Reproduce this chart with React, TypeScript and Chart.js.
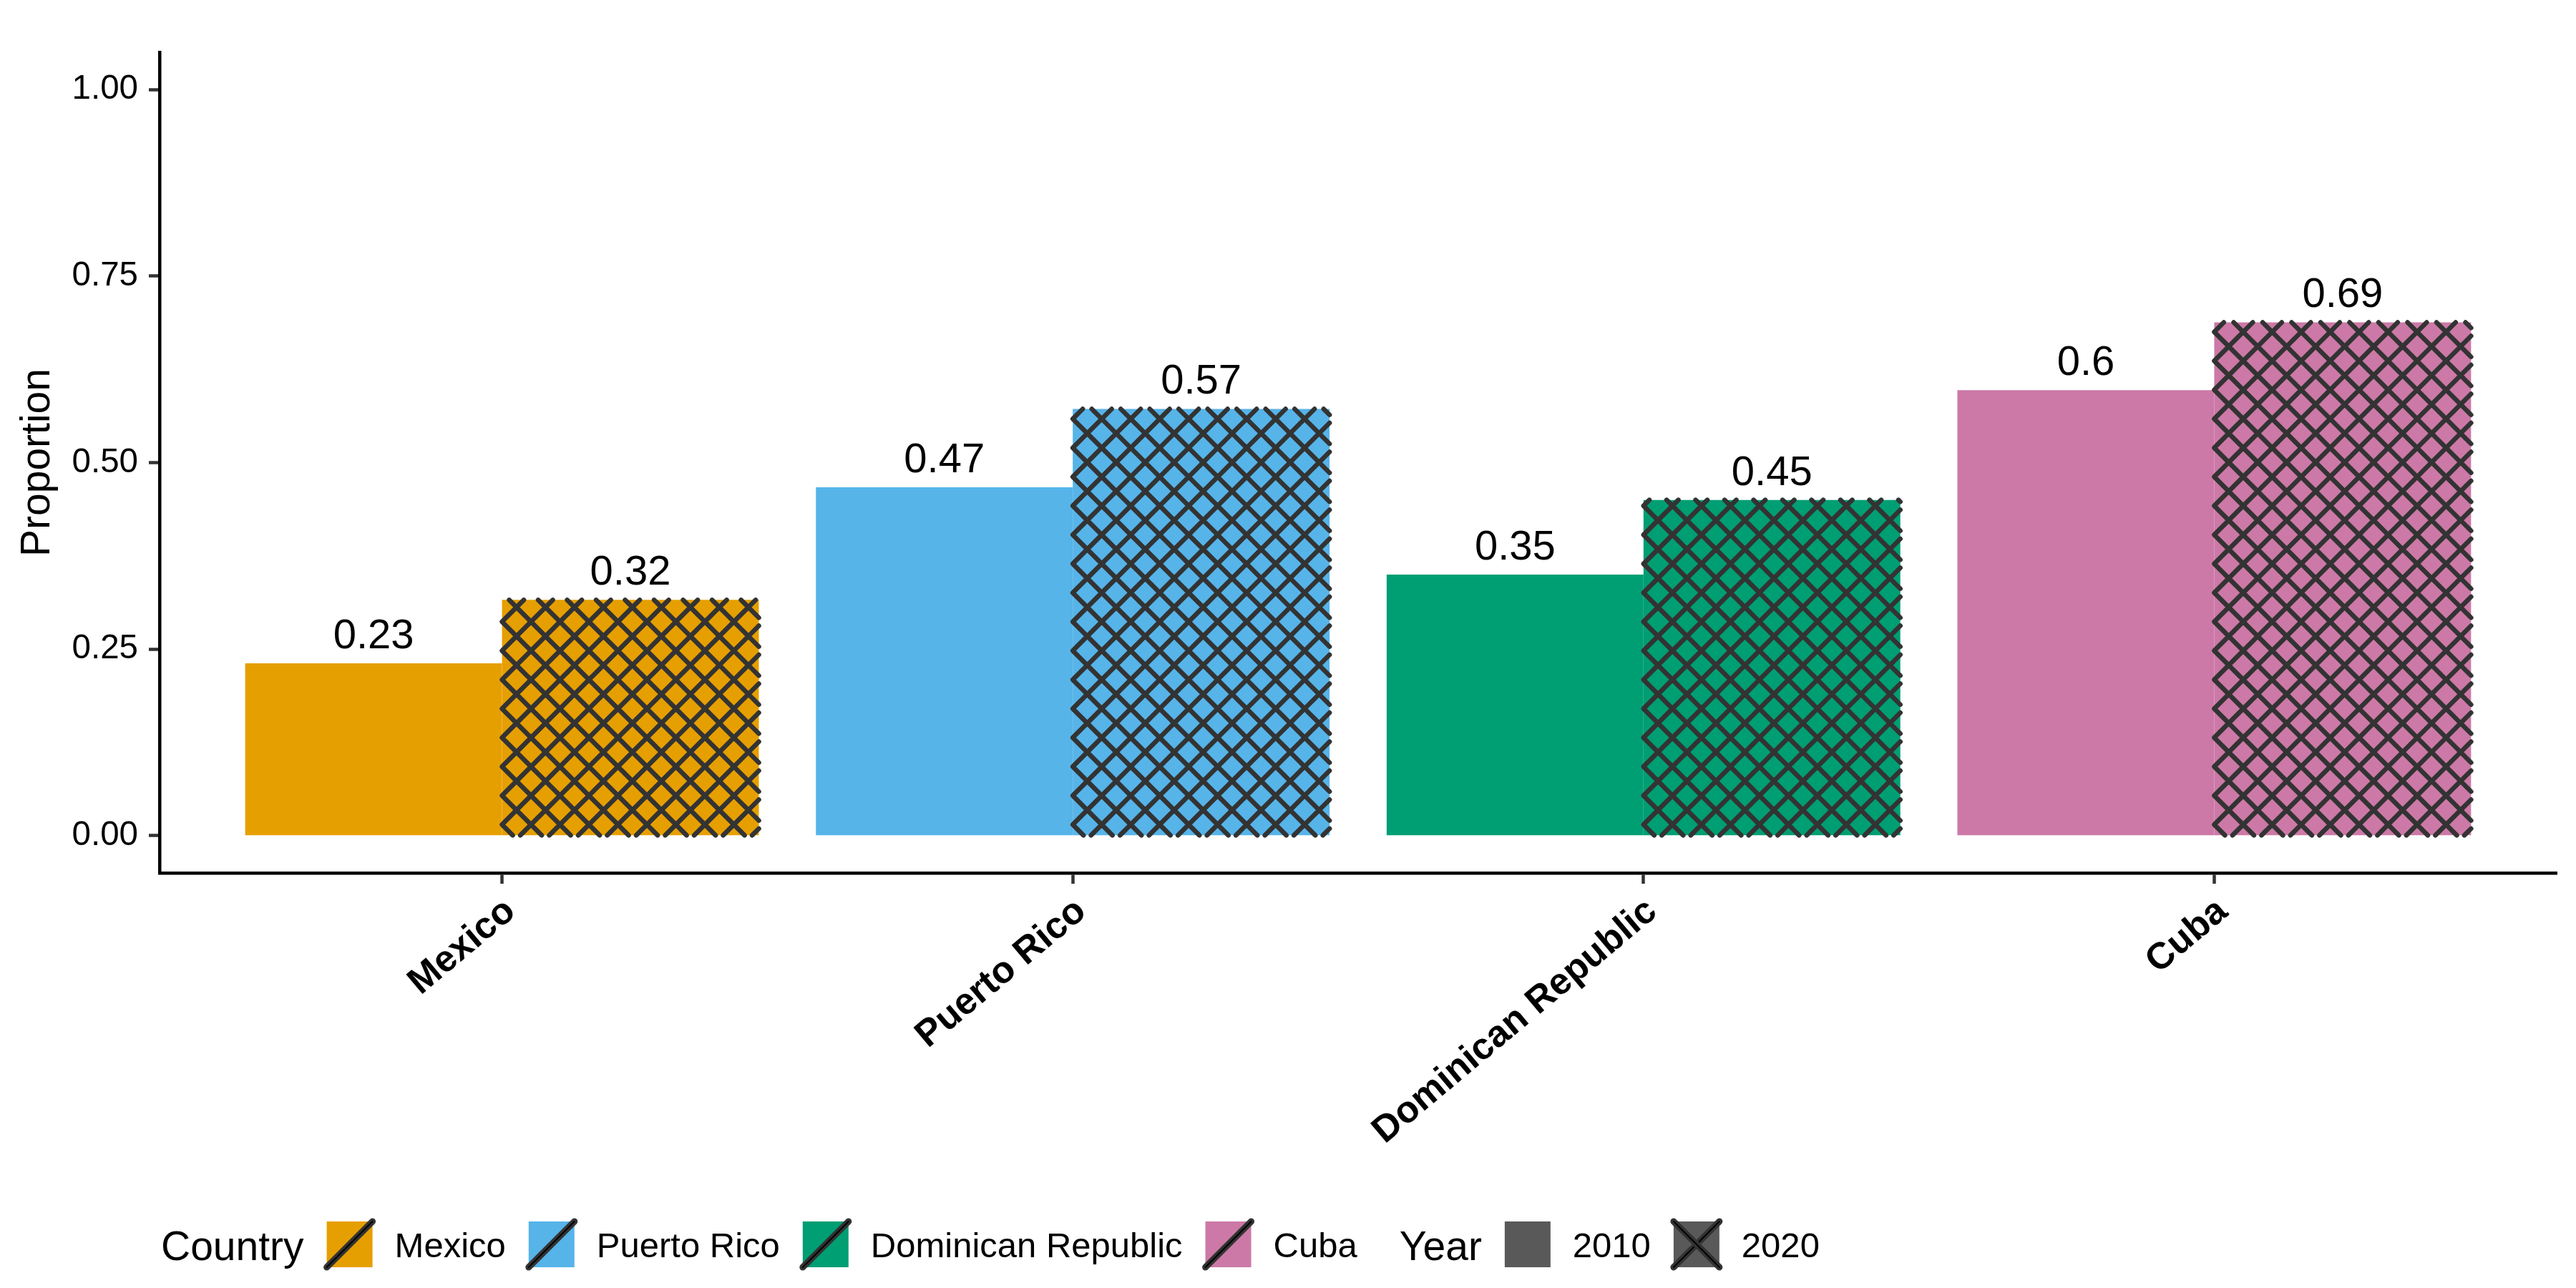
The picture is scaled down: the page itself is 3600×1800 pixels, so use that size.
import React, { useEffect, useRef } from "react";
import { Chart, registerables } from "chart.js";

Chart.register(...registerables);

// ---------- data ----------
const countries = ["Mexico", "Puerto Rico", "Dominican Republic", "Cuba"];
const years = ["2010", "2020"];
const values2010 = [0.231, 0.467, 0.35, 0.597];
const values2020 = [0.316, 0.572, 0.45, 0.688];
const countryColors = ["#E69F00", "#56B4E9", "#009E73", "#CC79A7"];
const yTicks = [0, 0.25, 0.5, 0.75, 1];
const yTitle = "Proportion";
const legendCountryTitle = "Country";
const legendYearTitle = "Year";

// ---------- styles ----------
const FONT = "'Liberation Sans', Arial, Helvetica, sans-serif";
const HATCH = "#333333";
const HATCH_PERIOD = 40.5;
const HATCH_WIDTH = 6.5;
const YEAR_KEY_FILL = "#595959";

function fmt(v: number) {
  return String(Number(v.toFixed(2)));
}

function strokeHatchLine(ctx: CanvasRenderingContext2D, x1: number, y1: number, x2: number, y2: number) {
  ctx.save();
  ctx.lineCap = "round";
  ctx.strokeStyle = HATCH;
  ctx.lineWidth = 9;
  ctx.beginPath();
  ctx.moveTo(x1, y1);
  ctx.lineTo(x2, y2);
  ctx.stroke();
  ctx.strokeStyle = "#000";
  ctx.lineWidth = 2;
  ctx.beginPath();
  ctx.moveTo(x1, y1);
  ctx.lineTo(x2, y2);
  ctx.stroke();
  ctx.restore();
}

const hatchPlugin = {
  id: "hatch",
  afterDatasetsDraw(chart: any) {
    const ctx: CanvasRenderingContext2D = chart.ctx;
    const meta = chart.getDatasetMeta(1);
    ctx.save();
    ctx.strokeStyle = HATCH;
    ctx.lineWidth = HATCH_WIDTH;
    ctx.lineCap = "round";
    meta.data.forEach((el: any) => {
      const p = el.getProps(["x", "y", "base", "width"], true);
      const left = p.x - p.width / 2;
      const right = p.x + p.width / 2;
      const top = Math.min(p.y, p.base);
      const bottom = Math.max(p.y, p.base);
      const ay = bottom - 15;
      const P = HATCH_PERIOD;
      ctx.beginPath();
      // family x + y = c
      const cA0 = left + ay;
      for (let k = Math.floor((left + top - cA0) / P) - 1; cA0 + k * P <= right + bottom + P; k++) {
        const c = cA0 + k * P;
        const x1 = Math.max(left, c - bottom);
        const x2 = Math.min(right, c - top);
        if (x2 > x1) {
          ctx.moveTo(x1, c - x1);
          ctx.lineTo(x2, c - x2);
        }
      }
      // family x - y = c
      const cB0 = left - ay;
      for (let k = Math.floor((left - bottom - cB0) / P) - 1; cB0 + k * P <= right - top + P; k++) {
        const c = cB0 + k * P;
        const x1 = Math.max(left, c + top);
        const x2 = Math.min(right, c + bottom);
        if (x2 > x1) {
          ctx.moveTo(x1, x1 - c);
          ctx.lineTo(x2, x2 - c);
        }
      }
      ctx.stroke();
    });
    ctx.restore();
  },
};

const valueLabelPlugin = {
  id: "valueLabels",
  afterDatasetsDraw(chart: any) {
    const ctx: CanvasRenderingContext2D = chart.ctx;
    ctx.save();
    ctx.fillStyle = "#000";
    ctx.font = `58px ${FONT}`;
    ctx.textAlign = "center";
    ctx.textBaseline = "alphabetic";
    chart.data.datasets.forEach((ds: any, di: number) => {
      const meta = chart.getDatasetMeta(di);
      meta.data.forEach((el: any, i: number) => {
        const p = el.getProps(["x", "y"], true);
        ctx.fillText(fmt(ds.data[i].y), p.x, p.y - 21);
      });
    });
    ctx.restore();
  },
};

const annotationsPlugin = {
  id: "annotations",
  afterDraw(chart: any) {
    const ctx: CanvasRenderingContext2D = chart.ctx;
    const area = chart.chartArea;
    // y axis title
    ctx.save();
    ctx.fillStyle = "#000";
    ctx.font = `57px ${FONT}`;
    ctx.textAlign = "center";
    ctx.textBaseline = "alphabetic";
    ctx.translate(69, (area.top + area.bottom) / 2);
    ctx.rotate(-Math.PI / 2);
    ctx.fillText(yTitle, 0, 0);
    ctx.restore();

    // legend
    ctx.save();
    const keyTop = 1707;
    const keySize = 64;
    const gap = 32;
    const titleFont = `57px ${FONT}`;
    const labelFont = `49px ${FONT}`;
    const titleBase = 1761;
    const labelBase = 1757;
    ctx.textAlign = "left";
    ctx.textBaseline = "alphabetic";
    let x = 225;
    ctx.fillStyle = "#000";
    ctx.font = titleFont;
    ctx.fillText(legendCountryTitle, x, titleBase);
    x += ctx.measureText(legendCountryTitle).width + gap;
    countries.forEach((c, i) => {
      ctx.fillStyle = countryColors[i];
      ctx.fillRect(x, keyTop, keySize, keySize);
      strokeHatchLine(ctx, x, keyTop + keySize, x + keySize, keyTop);
      x += keySize + gap - 1;
      ctx.fillStyle = "#000";
      ctx.font = labelFont;
      ctx.fillText(c, x, labelBase);
      x += ctx.measureText(c).width + gap;
    });
    x += 27;
    ctx.fillStyle = "#000";
    ctx.font = titleFont;
    ctx.fillText(legendYearTitle, x, titleBase);
    x += ctx.measureText(legendYearTitle).width + gap;
    years.forEach((y, i) => {
      ctx.fillStyle = YEAR_KEY_FILL;
      ctx.fillRect(x, keyTop, keySize, keySize);
      if (i === 1) {
        strokeHatchLine(ctx, x, keyTop + keySize, x + keySize, keyTop);
        strokeHatchLine(ctx, x, keyTop, x + keySize, keyTop + keySize);
      }
      x += keySize + gap - 1;
      ctx.fillStyle = "#000";
      ctx.font = labelFont;
      ctx.fillText(y, x, labelBase);
      x += ctx.measureText(y).width + gap;
    });
    ctx.restore();
  },
};

export default function App() {
  const canvasRef = useRef<HTMLCanvasElement | null>(null);

  useEffect(() => {
    document.body.style.margin = "0";
    const canvas = canvasRef.current;
    if (!canvas) return;
    const chart = new Chart(canvas, {
      type: "bar",
      data: {
        datasets: [
          {
            label: years[0],
            data: values2010.map((v, i) => ({ x: i, y: v })),
            backgroundColor: countryColors,
            borderWidth: 0,
            categoryPercentage: 0.9,
            barPercentage: 1.0,
          },
          {
            label: years[1],
            data: values2020.map((v, i) => ({ x: i, y: v })),
            backgroundColor: countryColors,
            borderWidth: 0,
            categoryPercentage: 0.9,
            barPercentage: 1.0,
          },
        ],
      },
      options: {
        responsive: false,
        animation: false,
        devicePixelRatio: 1,
        layout: { padding: { left: 0, right: 27, top: 73, bottom: 0 } },
        plugins: {
          legend: { display: false },
          tooltip: { enabled: false },
          title: { display: false },
        },
        scales: {
          x: {
            type: "linear",
            min: -0.6,
            max: 3.6,
            offset: false,
            afterBuildTicks: (s: any) => {
              s.ticks = countries.map((_, i) => ({ value: i }));
            },
            afterFit: (s: any) => {
              s.height = 580;
            },
            grid: {
              display: true,
              offset: false,
              drawOnChartArea: false,
              drawTicks: true,
              tickLength: 15,
              tickWidth: 4.5,
              tickColor: "#333",
            },
            border: { display: true, color: "#000", width: 4.5 },
            ticks: {
              autoSkip: false,
              minRotation: 40,
              maxRotation: 40,
              padding: 8,
              labelOffset: 12,
              color: "#000",
              font: { family: FONT, size: 52, weight: "bold" },
              callback: (v: any) => countries[v] ?? "",
            },
          },
          y: {
            type: "linear",
            min: -0.05,
            max: 1.05,
            afterBuildTicks: (s: any) => {
              s.ticks = yTicks.map((v) => ({ value: v }));
            },
            afterFit: (s: any) => {
              s.width = 223;
            },
            grid: {
              display: true,
              drawOnChartArea: false,
              drawTicks: true,
              tickLength: 15,
              tickWidth: 4.5,
              tickColor: "#333",
            },
            border: { display: true, color: "#000", width: 4.5 },
            ticks: {
              padding: 15,
              color: "#000",
              font: { family: FONT, size: 47.5 },
              callback: (v: any) => Number(v).toFixed(2),
            },
          },
        },
      } as any,
      plugins: [hatchPlugin, valueLabelPlugin, annotationsPlugin],
    });
    return () => chart.destroy();
  }, []);

  return (
    <canvas
      ref={canvasRef}
      width={3600}
      height={1800}
      style={{ display: "block", width: "3600px", height: "1800px" }}
    />
  );
}
